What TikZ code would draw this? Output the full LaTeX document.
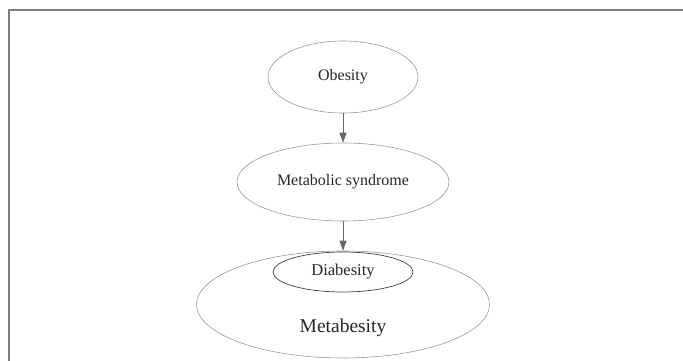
\documentclass[tikz,border=0pt]{standalone}
\usepackage{fontspec}
\setmainfont{Liberation Serif}
\usetikzlibrary{shapes.geometric,arrows.meta}
\begin{document}
\begin{tikzpicture}[x=1pt,y=-1pt,
  oval/.style={draw=black!40, line width=0.6pt, ellipse, inner sep=0pt, text=black!85, font=\fontsize{16}{18}\selectfont},
  inner/.style={draw=black!75, line width=0.7pt, ellipse, inner sep=0pt, text=black!85, font=\fontsize{16.5}{18}\selectfont},
  link/.style={draw=black!60, line width=1pt, -{Triangle[width=7pt,length=10pt]}}]
\useasboundingbox (0,0) rectangle (683,361);
\draw[black!50, line width=2pt] (683,10.5) coordinate (tr) -- (8.5,10.5) coordinate (tl) -- (8.5,361) coordinate (bl);
\node[oval, minimum width=150pt, minimum height=72pt] (ob) at (343,77) {Obesity};
\node[oval, minimum width=212pt, minimum height=78pt] (ms) at (343,182) {Metabolic syndrome};
\node[oval, minimum width=293pt, minimum height=107pt,
  label={[text=black!85, font=\fontsize{19.5}{22}\selectfont, yshift=-23pt]center:Metabesity}] (mb) at (343,304.5) {};
\node[inner, minimum width=140pt, minimum height=40pt] (db) at (343,272) {Diabesity};
\draw[link] (ob.south) -- (ms.north);
\draw[link] (ms.south) -- (mb.north);
\end{tikzpicture}
\end{document}
